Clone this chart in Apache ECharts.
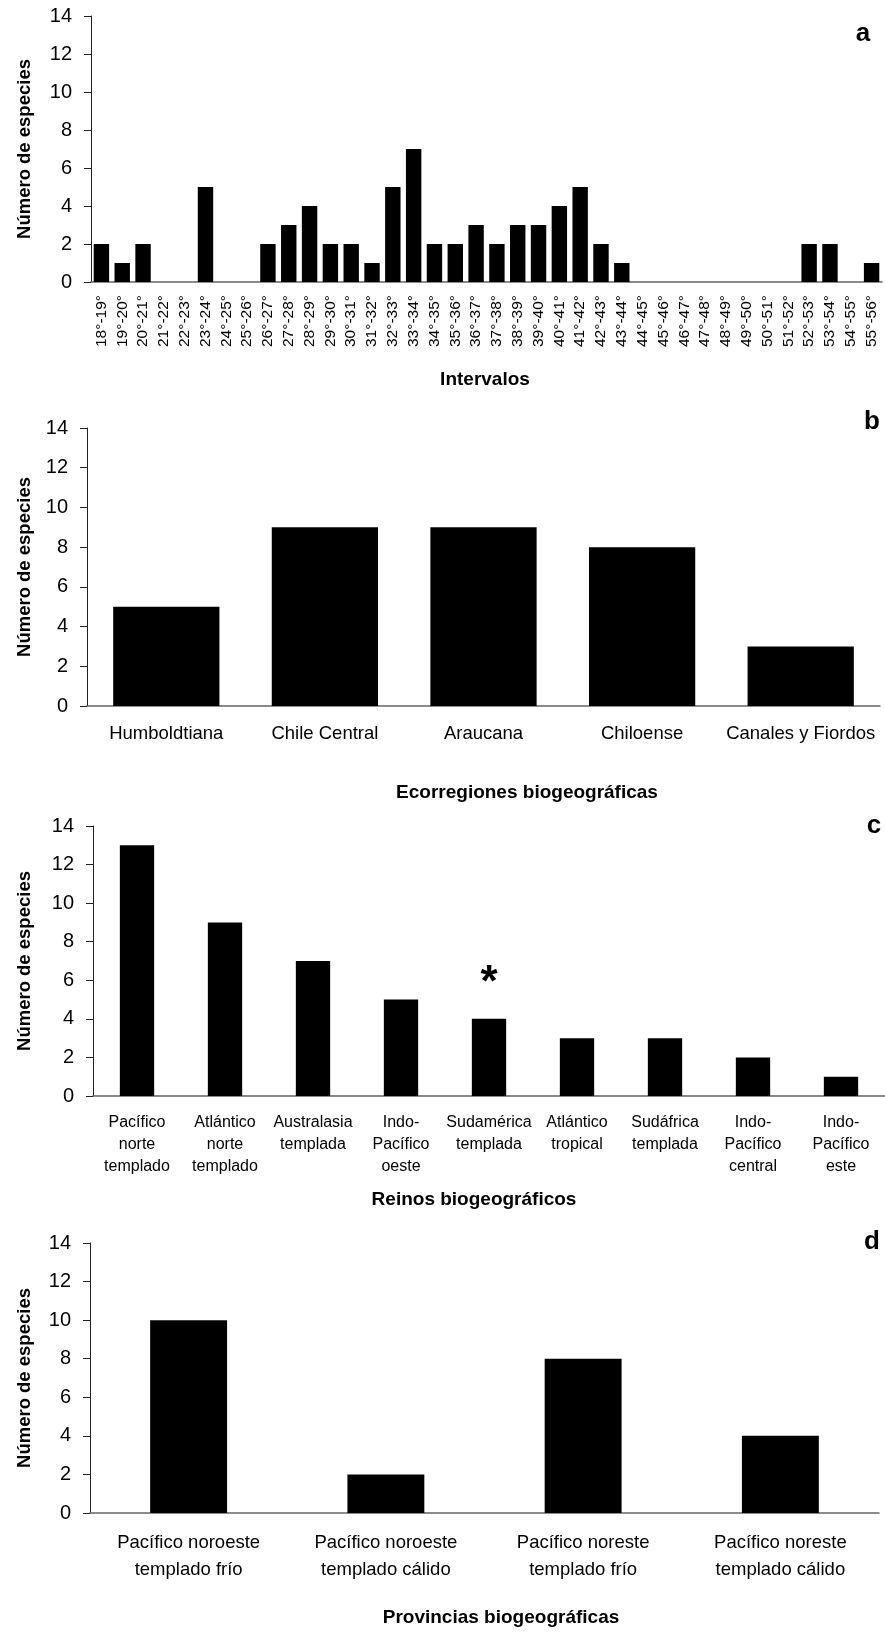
<!DOCTYPE html>
<html>
<head>
<meta charset="utf-8">
<script src="https://cdn.jsdelivr.net/npm/echarts@6/dist/echarts.min.js"></script>
<style>
html,body{margin:0;padding:0;background:#fff;}
#chart{width:885px;height:1633px;}
</style>
</head>
<body>
<div id="chart"></div>
<script>
// ---------- DATA ----------
const intervalos = ['18°-19°','19°-20°','20°-21°','21°-22°','22°-23°','23°-24°','24°-25°','25°-26°','26°-27°','27°-28°',
  '28°-29°','29°-30°','30°-31°','31°-32°','32°-33°','33°-34°','34°-35°','35°-36°','36°-37°','37°-38°',
  '38°-39°','39°-40°','40°-41°','41°-42°','42°-43°','43°-44°','44°-45°','45°-46°','46°-47°','47°-48°',
  '48°-49°','49°-50°','50°-51°','51°-52°','52°-53°','53°-54°','54°-55°','55°-56°'];
const especiesIntervalo = [2,1,2,0,0,5,0,0,2,3,4,2,2,1,5,7,2,2,3,2,3,3,4,5,2,1,0,0,0,0,0,0,0,0,2,2,0,1];

const ecorregiones = ['Humboldtiana','Chile Central','Araucana','Chiloense','Canales y Fiordos'];
const especiesEcorregion = [5,9,9,8,3];

const reinos = ['Pacífico\nnorte\ntemplado','Atlántico\nnorte\ntemplado','Australasia\ntemplada','Indo-\nPacífico\noeste',
  'Sudamérica\ntemplada','Atlántico\ntropical','Sudáfrica\ntemplada','Indo-\nPacífico\ncentral','Indo-\nPacífico\neste'];
const especiesReino = [13,9,7,5,4,3,3,2,1];
const reinoMarcado = 'Sudamérica\ntemplada'; // marked with *

const provincias = ['Pacífico noroeste\ntemplado frío','Pacífico noroeste\ntemplado cálido','Pacífico noreste\ntemplado frío','Pacífico noreste\ntemplado cálido'];
const especiesProvincia = [10,2,8,4];

const yTitle = 'Número de especies';
const xTitles = ['Intervalos','Ecorregiones biogeográficas','Reinos biogeográficos','Provincias biogeográficas'];
const panelLetters = ['a','b','c','d'];

// ---------- FONTS ----------
function hasFont(name){
  const ctx = document.createElement('canvas').getContext('2d');
  const s = 'abcdefghijklmnopqrstuvwxyz0123456789ABCDEFG';
  ctx.font = '40px monospace'; const a = ctx.measureText(s).width;
  ctx.font = '40px "' + name + '", monospace'; const b = ctx.measureText(s).width;
  return Math.abs(a - b) > 0.5;
}
const REG = 'Liberation Sans';
const NARROW = hasFont('Liberation Sans Narrow') ? 'Liberation Sans Narrow' : null;
const fCat = NARROW ? {fontFamily: NARROW, fontSize: 22} : {fontFamily: REG, fontSize: 18.5};
const fCatC = NARROW ? {fontFamily: NARROW, fontSize: 19.5} : {fontFamily: REG, fontSize: 16};
const fRot = NARROW ? {fontFamily: NARROW, fontSize: 18} : {fontFamily: REG, fontSize: 15.5};
const fTick = NARROW ? {fontFamily: NARROW, fontSize: 22} : {fontFamily: REG, fontSize: 20};

// ---------- LAYOUT ----------
const grids = [
  {left: 91, top: 16, width: 791, height: 266},
  {left: 87, top: 428, width: 793, height: 278},
  {left: 93, top: 826, width: 792, height: 270},
  {left: 90, top: 1243, width: 789, height: 270}
];
const yNameGap = [57, 53, 59, 56];

function yAxisFor(i){
  return {
    type: 'value', gridIndex: i, min: 0, max: 14, interval: 2,
    name: yTitle, nameLocation: 'middle', nameRotate: 90, nameGap: yNameGap[i],
    nameTextStyle: {fontFamily: REG, fontWeight: 'bold', fontSize: 18.5, color: '#000'},
    axisLine: {show: true, lineStyle: {color: '#222', width: 1}},
    axisTick: {show: true, length: 7, lineStyle: {color: '#222'}},
    splitLine: {show: false},
    axisLabel: Object.assign({color: '#000', margin: 19}, fTick)
  };
}
function xAxisFor(i, cats, label){
  return {
    type: 'category', gridIndex: i, data: cats,
    axisLine: {show: true, lineStyle: {color: '#666', width: 1.5}},
    axisTick: {show: false},
    axisLabel: Object.assign({color: '#000', interval: 0}, label)
  };
}

const xAxes = [
  xAxisFor(0, intervalos, Object.assign({rotate: 90, margin: 13}, fRot)),
  xAxisFor(1, ecorregiones, Object.assign({margin: 18}, fCat)),
  xAxisFor(2, reinos, Object.assign({margin: 16, lineHeight: 22}, fCatC)),
  xAxisFor(3, provincias, Object.assign({margin: 16, lineHeight: 27}, fCat))
];

const barStyle = {color: '#000'};

const reinoData = especiesReino.map((v, k) => reinos[k] === reinoMarcado ? {
  value: v,
  label: {show: true, position: 'top', formatter: '*', distance: 13,
    fontFamily: REG, fontWeight: 'bold', fontSize: 44, color: '#000'}
} : v);

const series = [
  {type: 'bar', xAxisIndex: 0, yAxisIndex: 0, data: especiesIntervalo, barCategoryGap: '26%', itemStyle: barStyle},
  {type: 'bar', xAxisIndex: 1, yAxisIndex: 1, data: especiesEcorregion, barCategoryGap: '33%', itemStyle: barStyle},
  {type: 'bar', xAxisIndex: 2, yAxisIndex: 2, data: reinoData, barCategoryGap: '61%', itemStyle: barStyle},
  {type: 'bar', xAxisIndex: 3, yAxisIndex: 3, data: especiesProvincia, barCategoryGap: '61%', itemStyle: barStyle}
];

const titlePos = [[485, 380], [527, 793], [474, 1200], [501, 1618]];
const letterPos = [[863, 34], [872, 422], [874, 826], [872, 1242]];
const graphic = [];
xTitles.forEach((t, i) => graphic.push({
  type: 'text', x: titlePos[i][0], y: titlePos[i][1],
  style: {text: t, fill: '#000', font: 'bold 19px "' + REG + '"', textAlign: 'center', textVerticalAlign: 'middle'}
}));
panelLetters.forEach((t, i) => graphic.push({
  type: 'text', x: letterPos[i][0], y: letterPos[i][1],
  style: {text: t, fill: '#000', font: 'bold 26px "' + REG + '"', textAlign: 'center', textVerticalAlign: 'middle'}
}));

const chart = echarts.init(document.getElementById('chart'), null, {renderer: 'canvas'});
chart.setOption({
  animation: false,
  backgroundColor: '#fff',
  grid: grids.map(g => Object.assign({containLabel: false}, g)),
  xAxis: xAxes,
  yAxis: [0,1,2,3].map(yAxisFor),
  series: series,
  graphic: graphic
});
</script>
</body>
</html>
